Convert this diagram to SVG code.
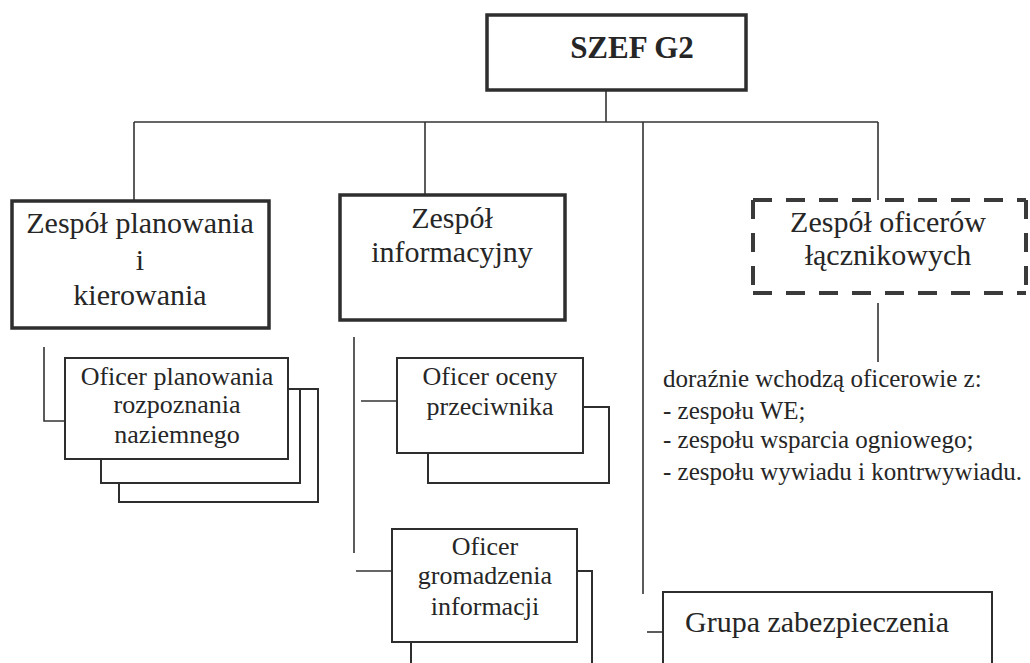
<svg xmlns="http://www.w3.org/2000/svg" width="1030" height="663" viewBox="0 0 1030 663" font-family="'Liberation Serif', serif">
<style>
text{font-family:'Liberation Serif',serif;fill:#262626}
.t30{font-size:30px;text-anchor:middle}
.t26{font-size:26px;text-anchor:middle}
.lst{font-size:25px}
.box{fill:#fff;stroke:#2e2e2e}
.main{stroke-width:3.5}
.off{stroke-width:2}
.back{fill:none;stroke:#2e2e2e;stroke-width:2}
.dash{stroke:#3a3a3a;stroke-width:4;stroke-dasharray:19 14;fill:none}
.con{fill:none;stroke:#333;stroke-width:1.6}
</style>
<rect width="1030" height="663" fill="#fff"/>
<g id="connectors">
<path class="con" d="M606,82 V122"/>
<path class="con" d="M134,122 H878"/>
<path class="con" d="M134,122 V201"/>
<path class="con" d="M425,122 V195"/>
<path class="con" d="M643,122 V594"/>
<path class="con" d="M878,122 V200"/>
<path class="con" d="M878,303 V362"/>
<path class="con" d="M44,347 V421 H65"/>
<path class="con" d="M354,337 V553"/>
<path class="con" d="M361,401 H397"/>
<path class="con" d="M356,571 H392"/>
<path class="con" d="M647,632 H663"/>
</g>
<g id="szef-g2">
<rect class="box main" x="487" y="15" width="259" height="75" stroke-width="4"/>
<text x="632" y="58" style="font-size:31px;font-weight:bold;text-anchor:middle">SZEF G2</text>
</g>
<g id="zespol-planowania">
<rect class="box main" x="12" y="201" width="257" height="127"/>
<text class="t30" x="140" y="233">Zespół planowania</text>
<text class="t30" x="140" y="270">i</text>
<text class="t30" x="140" y="305">kierowania</text>
</g>
<g id="zespol-informacyjny">
<rect class="box main" x="340" y="195" width="225" height="125"/>
<text class="t30" x="452" y="228">Zespół</text>
<text class="t30" x="452" y="262">informacyjny</text>
</g>
<g id="zespol-oficerow-lacznikowych">
<rect x="753" y="200" width="273" height="93" fill="#fff"/>
<path class="dash" d="M753,200 H1026"/>
<path class="dash" d="M753,293 H1026"/>
<path class="dash" d="M753,200 V293"/>
<path class="dash" d="M1026,200 V293"/>
<text class="t30" x="888" y="232">Zespół oficerów</text>
<text class="t30" x="888" y="265">łącznikowych</text>
</g>
<g id="oficerowie-lacznikowi-lista">
<text class="lst" x="663" y="387">doraźnie wchodzą oficerowie z:</text>
<text class="lst" x="663" y="419">- zespołu WE;</text>
<text class="lst" x="663" y="448">- zespołu wsparcia ogniowego;</text>
<text class="lst" x="663" y="480">- zespołu wywiadu i kontrwywiadu.</text>
</g>
<g id="oficer-planowania">
<path class="back" d="M300,389 H318 V502 H119 V483"/>
<path class="back" d="M288,389 H300 V483 H101 V459"/>
<rect class="box off" x="65" y="358" width="223" height="101"/>
<text class="t26" x="177" y="385">Oficer planowania</text>
<text class="t26" x="177" y="413">rozpoznania</text>
<text class="t26" x="177" y="443">naziemnego</text>
</g>
<g id="oficer-oceny">
<path class="back" d="M583,407 H609 V483 H428 V453"/>
<rect class="box off" x="397" y="358" width="186" height="95"/>
<text class="t26" x="490" y="385">Oficer oceny</text>
<text class="t26" x="490" y="415">przeciwnika</text>
</g>
<g id="oficer-gromadzenia">
<path class="back" d="M577,571 H592 V670 M411,642 V670"/>
<rect class="box off" x="392" y="529" width="185" height="113"/>
<text class="t26" x="485" y="555">Oficer</text>
<text class="t26" x="485" y="584">gromadzenia</text>
<text class="t26" x="485" y="615">informacji</text>
</g>
<g id="grupa-zabezpieczenia">
<rect class="box off" x="663" y="592" width="329" height="90"/>
<text x="685" y="632" style="font-size:30px">Grupa zabezpieczenia</text>
</g>
</svg>
